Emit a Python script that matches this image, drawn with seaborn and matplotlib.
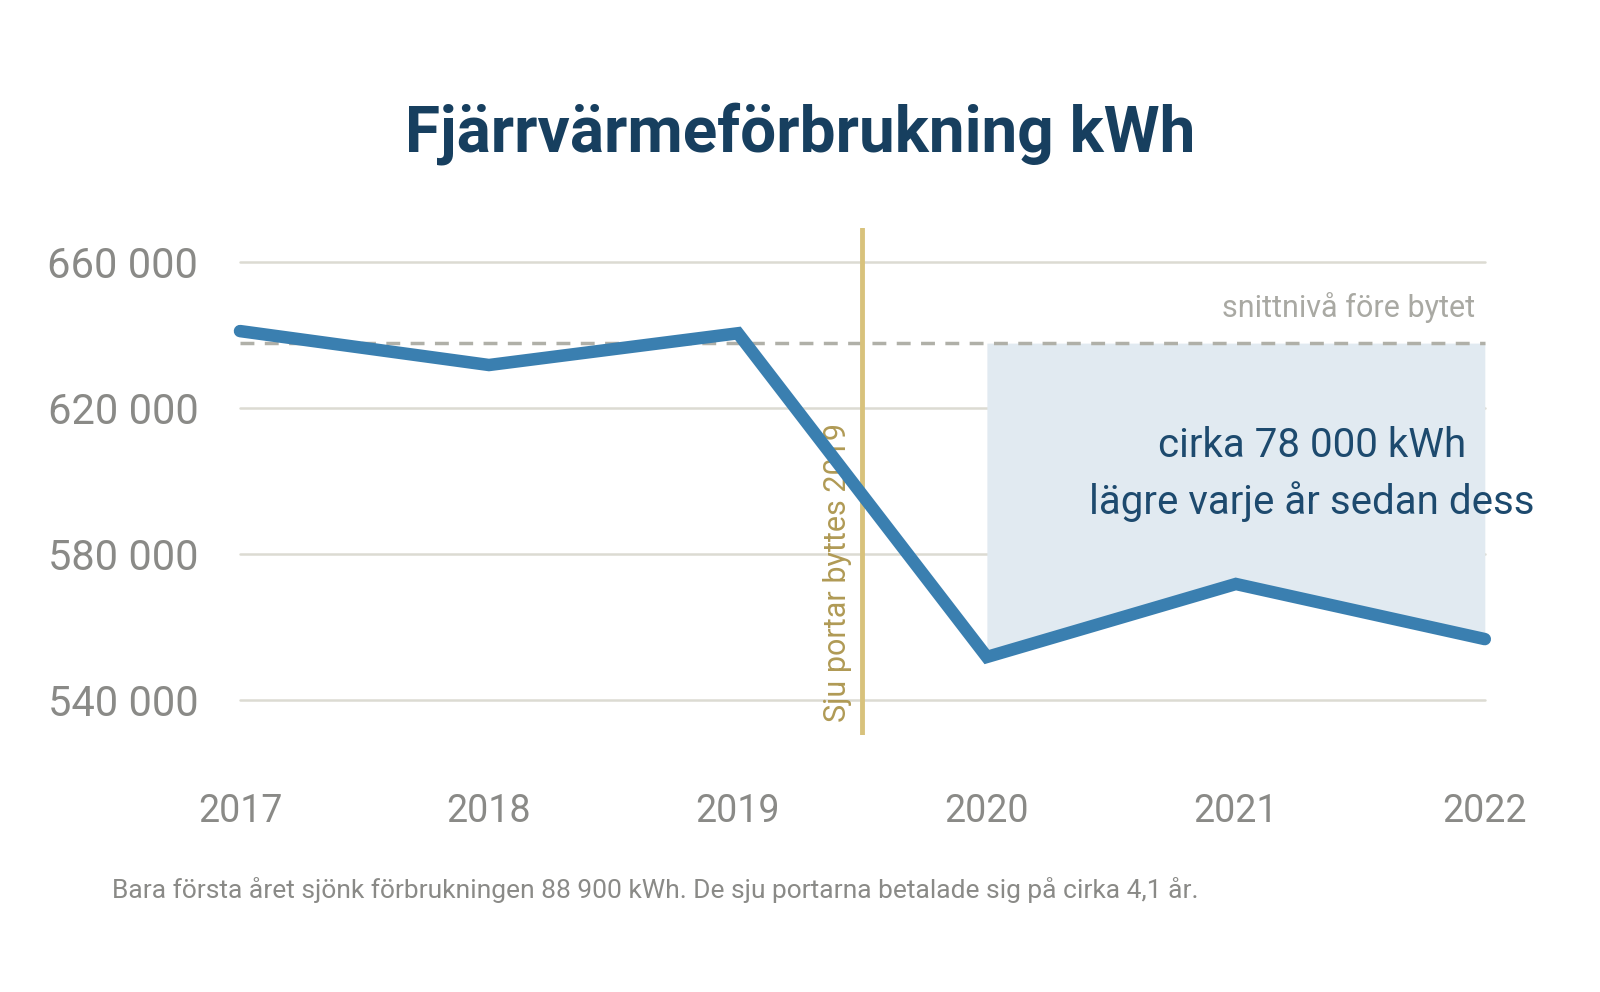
import matplotlib
matplotlib.use("Agg")
import matplotlib.pyplot as plt
import seaborn as sns
import pandas as pd

years = [2017, 2018, 2019, 2020, 2021, 2022]
kwh = [641100, 631800, 640500, 551800, 571800, 556700]
avg_before = 637800
yticks = [540000, 580000, 620000, 660000]
ytick_labels = ["540 000", "580 000", "620 000", "660 000"]

sns.set_theme(style="white")
plt.rcParams['font.family'] = ['Roboto', 'DejaVu Sans']

fig = plt.figure(figsize=(16, 9.92), dpi=100)
ax = fig.add_axes([0.15, 0.259, 0.778, 0.511])
df = pd.DataFrame({"year": years, "kwh": kwh})

for t in yticks:
    ax.axhline(t, color="#dcdbd2", lw=1.8, zorder=0)
ax.fill_between(years[3:], kwh[3:], avg_before, color="#e1eaf1", zorder=1, lw=0)
ax.axhline(avg_before, color="#b0b0a8", lw=2.5, ls=(0, (4, 3)), zorder=2)
sns.lineplot(data=df, x="year", y="kwh", ax=ax, color="#3a7fb0", lw=9, zorder=4,
             solid_capstyle="round", solid_joinstyle="miter")
for l in ax.lines:
    l.set_clip_on(False)
ax.axvline(2019.5, color="#d8c27c", lw=3.5, zorder=3)

ax.set_xlim(2017, 2022)
ax.set_ylim(530400, 669300)
ax.set_yticks(yticks)
ax.set_yticklabels(ytick_labels)
ax.set_xticks(years)
ax.set_xticklabels([str(y) for y in years])
ax.tick_params(axis="y", labelsize=30, colors="#8a8a87", pad=30, length=0)
ax.tick_params(axis="x", labelsize=27, colors="#8a8a87", pad=42, length=0)
ax.set_xlabel("")
ax.set_ylabel("")
for s in ax.spines.values():
    s.set_visible(False)

ax.text(2021.96, avg_before + 5500, "snittnivå före bytet", ha="right", va="bottom",
        fontsize=22, color="#a9a9a3")
ax.text(2019.4, 575000, "Sju portar byttes 2019", rotation=90, ha="center", va="center",
        fontsize=22, color="#b09a55")
ax.text(2022.2, 602000, "cirka 78 000 kWh\nlägre varje år sedan dess", ha="right", va="center",
        fontsize=29, color="#1d4a6e", linespacing=1.5, multialignment="center")

fig.text(0.5, 0.865, "Fjärrvärmeförbrukning kWh", ha="center", va="center",
         fontsize=46, fontweight="bold", color="#173f5f")
fig.text(0.07, 0.103, "Bara första året sjönk förbrukningen 88 900 kWh. De sju portarna betalade sig på cirka 4,1 år.",
         ha="left", va="center", fontsize=19, color="#8a8a87")

fig.savefig("out.png", dpi=100)
